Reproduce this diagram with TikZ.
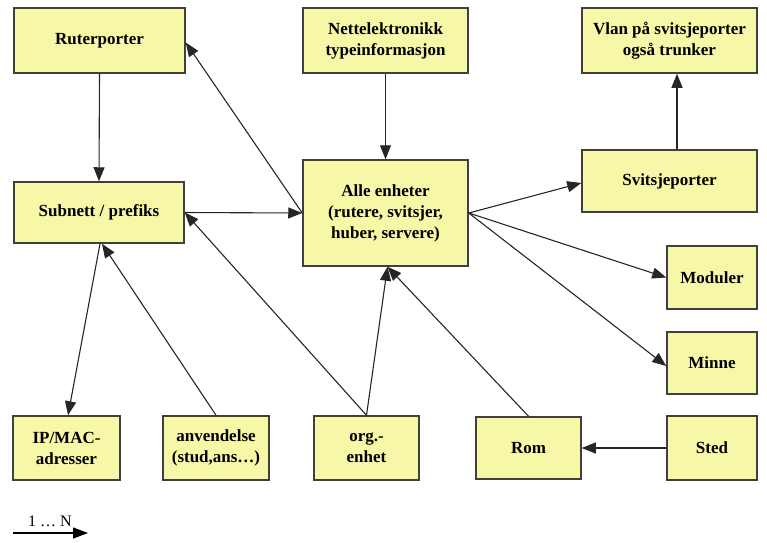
\documentclass[tikz,border=0pt]{standalone}
\usepackage{fontspec}
\setmainfont{Liberation Serif}
\usetikzlibrary{arrows.meta}
\definecolor{boxfill}{RGB}{247,247,168}
\definecolor{boxline}{RGB}{64,64,64}
\begin{document}
\begin{tikzpicture}[x=1pt,y=-1pt,
  box/.style={draw=boxline,line width=1.5pt,fill=boxfill,inner sep=2pt,
    align=center,font=\fontsize{17}{21}\selectfont\bfseries},
  arr/.style={draw=black!85,line width=1.1pt,-{Triangle[length=14pt,width=11pt]}}]
\useasboundingbox (0,0) rectangle (767,542);
\node[box,minimum width=171,minimum height=65] (rut) at (99.5,40.5) {Ruterporter};
\node[box,minimum width=165,minimum height=65] (net) at (385.5,40.5) {Nettelektronikk\\typeinformasjon};
\node[box,minimum width=175,minimum height=65] (vlan) at (669.5,40.5) {Vlan på svitsjeporter\\også trunker};
\node[box,minimum width=170,minimum height=61] (sub) at (99,212.5) {Subnett / prefiks};
\node[box,minimum width=165,minimum height=106] (alle) at (385.5,213) {Alle enheter\\(rutere, svitsjer,\\huber, servere)};
\node[box,minimum width=175,minimum height=62] (sw) at (669.5,181) {Svitsjeporter};
\node[box,minimum width=90,minimum height=63] (mod) at (712,277.5) {Moduler};
\node[box,minimum width=90,minimum height=62] (min) at (712,363) {Minne};
\node[box,minimum width=107,minimum height=64] (ip) at (66.5,448) {IP/MAC-\\adresser};
\node[box,minimum width=106,minimum height=64] (anv) at (216,448) {anvendelse\\(stud,ans…)};
\node[box,minimum width=105,minimum height=64] (org) at (366.5,448) {org.-\\enhet};
\node[box,minimum width=105,minimum height=62] (rom) at (528.5,448) {Rom};
\node[box,minimum width=90,minimum height=64] (sted) at (712,448) {Sted};
% connectors
\draw[arr] (rut.south) -- (sub.north);
\draw[arr] (net.south) -- (alle.north);
\draw[arr] ([xshift=7.5pt]sw.north) -- ([xshift=7.5pt]vlan.south);
\draw[arr] (alle.west) -- ([yshift=-2pt]rut.east);
\draw[arr] (sub.east) -- (alle.west);
\draw[arr] (alle.east) -- ([yshift=-2pt]sw.west);
\draw[arr] (alle.east) -- (mod.west);
\draw[arr] (alle.east) -- ([yshift=-3pt]min.west);
\draw[arr] ([xshift=1pt]sub.south) -- ([xshift=1.5pt]ip.north);
\draw[arr] (anv.north) -- ([xshift=3pt]sub.south);
\draw[arr] (org.north) -- (sub.east);
\draw[arr] (org.north) -- ([xshift=2pt]alle.south);
\draw[arr] (rom.north) -- ([xshift=2pt]alle.south);
\draw[arr] (sted.west) -- (rom.east);
% legend
\coordinate (l1) at (13,533);
\coordinate (l2) at (88,533);
\draw[draw=black,line width=1.1pt,-{Triangle[length=15pt,width=11pt]}] (l1) -- (l2);
\node[font=\fontsize{16}{19}\selectfont] (lt) at (50,521) {1 … N};
\end{tikzpicture}
\end{document}
